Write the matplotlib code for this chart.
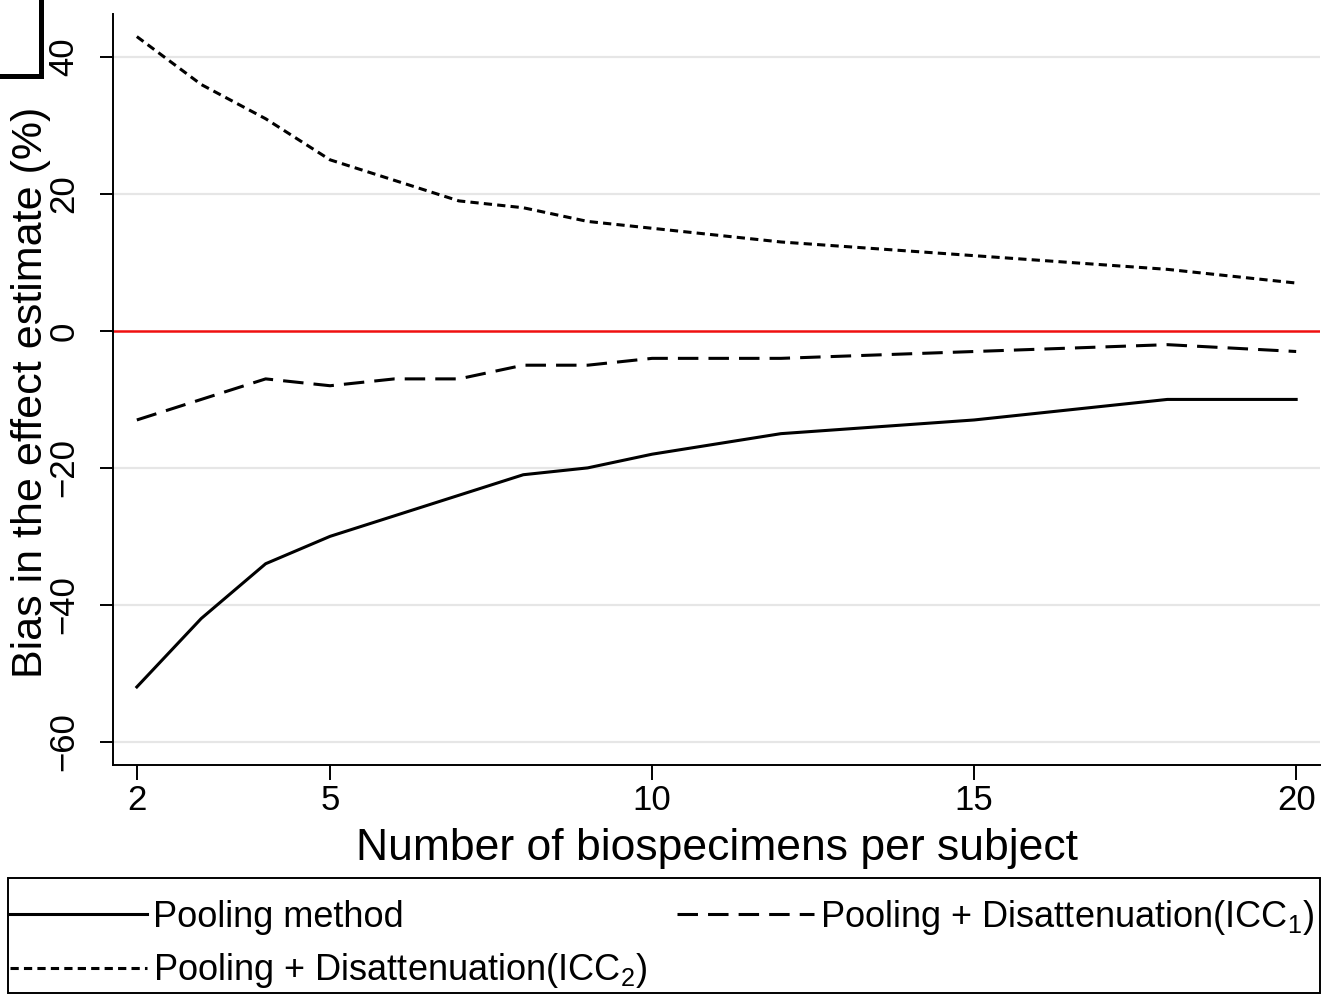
import matplotlib
matplotlib.use("Agg")
import matplotlib.pyplot as plt
from matplotlib.patches import Rectangle

plt.rcParams["font.family"] = ["Liberation Sans", "DejaVu Sans"]
plt.rcParams["mathtext.fontset"] = "custom"
plt.rcParams["mathtext.rm"] = "Liberation Sans"
plt.rcParams["mathtext.default"] = "regular"

# ── data ─────────────────────────────────────────────────────────────────────
n_specimens = [2, 3, 4, 5, 6, 7, 8, 9, 10, 12, 15, 18, 20]
bias_pooling = [-52, -42, -34, -30, -27, -24, -21, -20, -18, -15, -13, -10, -10]
bias_icc1 = [-13, -10, -7, -8, -7, -7, -5, -5, -4, -4, -3, -2, -3]
bias_icc2 = [43, 36, 31, 25, 22, 19, 18, 16, 15, 13, 11, 9, 7]

x_ticks = [2, 5, 10, 15, 20]
y_ticks = [-60, -40, -20, 0, 20, 40]

W, H = 1335, 1000
fig = plt.figure(figsize=(W / 100, H / 100), dpi=100, facecolor="white")

# axes box in pixel terms -> figure fractions
left, right, top, bottom = 113, 1320, 14, 765
ax = fig.add_axes([left / W, 1 - bottom / H, (right - left) / W, (bottom - top) / H])

for yt in y_ticks:
    if yt != 0:
        ax.axhline(yt, color="#e6e6e6", lw=1.6, zorder=0)
ax.axhline(0, color="#f01010", lw=1.8, zorder=1)

LW = 2.2
l1, = ax.plot(n_specimens, bias_pooling, color="black", lw=LW)
l3, = ax.plot(n_specimens, bias_icc2, color="black", lw=LW, dashes=(2.7, 1.7))
l2, = ax.plot(n_specimens, bias_icc1, color="black", lw=LW, dashes=(6.7, 3.3))

ax.set_xlim(1.63, 20.37)
ax.set_ylim(-63.4, 46.3)
ax.set_xticks(x_ticks)
ax.set_yticks(y_ticks)
ax.set_yticklabels(["\u221260", "\u221240", "\u221220", "0", "20", "40"])
ax.spines[["top", "right"]].set_visible(False)
for s in ("left", "bottom"):
    ax.spines[s].set_linewidth(1.4)
ax.tick_params(axis="x", length=10.8, width=1.4, labelsize=25, pad=3)
ax.tick_params(axis="y", length=9.4, width=1.4, labelsize=25, pad=14)
for lab in ax.get_yticklabels():
    lab.set_rotation(90)
    lab.set_va("center")

fig.text(717 / W, 1 - 860 / H, "Number of biospecimens per subject",
         ha="center", va="baseline", fontsize=32)
fig.text(31 / W, 1 - 392 / H, "Bias in the effect estimate (%)",
         ha="center", va="center", rotation=90, fontsize=31)

# ── legend below the plot (frame drawn separately) ──────────────────────────
fig.add_artist(Rectangle((8 / W, 1 - 993 / H), (1320 - 8) / W, (993 - 878) / H,
                         transform=fig.transFigure, fill=False,
                         edgecolor="black", lw=1.4))
leg = fig.legend([l1, l3, l2],
                 ["Pooling method",
                  "Pooling + Disattenuation(ICC$_2$)",
                  "Pooling + Disattenuation(ICC$_1$)"],
                 ncol=2, mode="expand",
                 bbox_to_anchor=(10 / W, 1 - 995 / H, (1314 - 10) / W, (995 - 898) / H),
                 loc="upper left", fontsize=26, handlelength=3.8,
                 handletextpad=0.15, labelspacing=0.45, borderpad=0,
                 borderaxespad=0, frameon=False)

# cropped panel-label frame in the top-left corner
fig.add_artist(Rectangle((-0.05, 1 - 75.5 / H), 0.05 + 40.5 / W, 0.2,
                         transform=fig.transFigure, fill=False,
                         edgecolor="black", lw=3.6, clip_on=False))

fig.savefig("out.png", dpi=100, facecolor="white")
